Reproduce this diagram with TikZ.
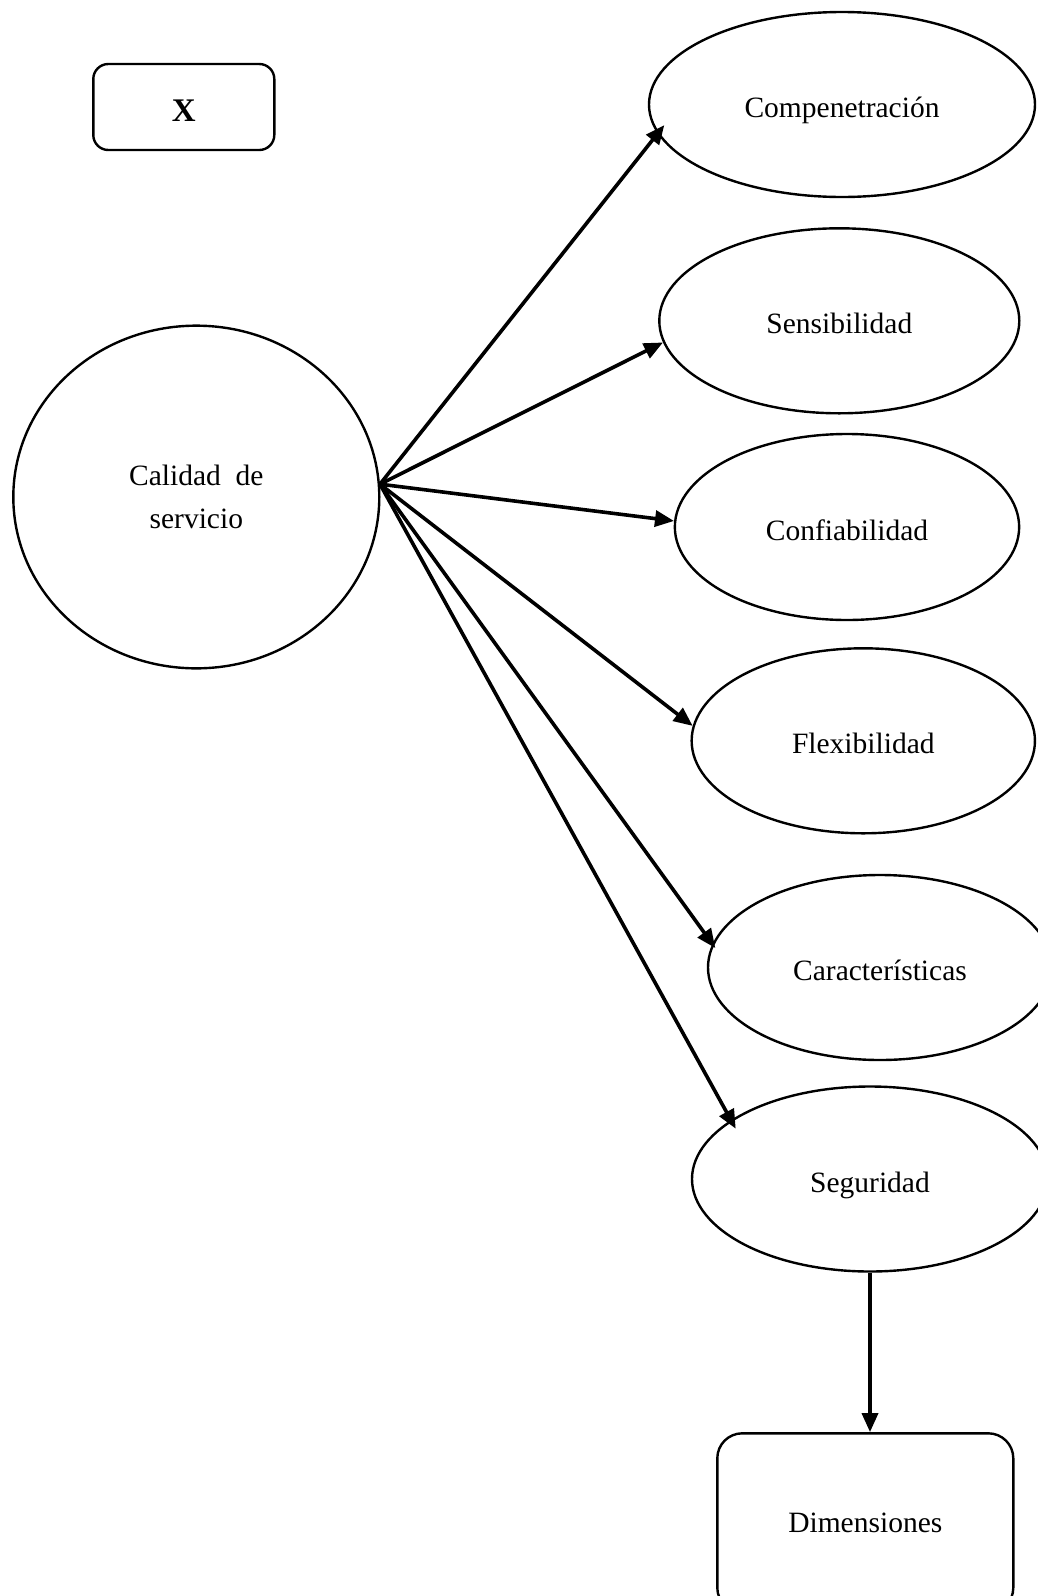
\documentclass[tikz,border=0pt]{standalone}
\usepackage{fontspec}
\setmainfont{Liberation Serif}
\usetikzlibrary{shapes.geometric,arrows.meta}
\begin{document}
\begin{tikzpicture}[x=1pt,y=-1pt,
  every node/.style={font=\fontsize{29.5}{42.6}\selectfont},
  ell/.style={ellipse,draw,line width=2.4pt,inner sep=0pt,align=center},
  lbl/.style={text height=26pt,text depth=0pt},
  rbox/.style={rectangle,draw,line width=2.4pt,inner sep=0pt,align=center},
  conn/.style={line width=3.6pt,-{Triangle[length=19pt,width=16pt]}}]
\path[use as bounding box] (0,0) rectangle (1038,1596);
\clip (0,0) rectangle (1038,1596);

\node[rbox,rounded corners=15pt,minimum width=181pt,minimum height=86pt,text height=29pt,text depth=0pt] (xbox) at (183.8,107)
  {\fontsize{33}{36}\selectfont\bfseries X};
\node[ell,minimum width=366pt,minimum height=342.7pt] (cal) at (196.3,497) {Calidad\ \ de\\servicio};

\node[ell,lbl,minimum width=386pt,minimum height=185pt] (comp) at (842,104.5) {Compenetración};
\node[ell,lbl,minimum width=360pt,minimum height=185pt] (sens) at (839.3,320.8) {Sensibilidad};
\node[ell,lbl,minimum width=344.3pt,minimum height=186pt] (conf) at (847,527) {Confiabilidad};
\node[ell,lbl,minimum width=343.3pt,minimum height=185pt] (flex) at (863.3,740.8) {Flexibilidad};
\node[ell,lbl,minimum width=344pt,minimum height=185pt] (car) at (880,967.5) {Características};
\node[ell,lbl,minimum width=356pt,minimum height=185pt] (seg) at (870,1179) {Seguridad};

\node[rbox,rounded corners=25pt,minimum width=296pt,minimum height=179.4pt] (dim) at (865.3,1523) {Dimensiones};

\draw[conn,shorten >=-11pt] (cal.4.8) -- (comp.189.4);
\draw[conn] (cal.4.8) -- (sens.187.1);
\draw[conn] (cal.4.8) -- (conf.178.2);
\draw[conn] (cal.4.8) -- (flex.175.3);
\draw[conn,shorten >=-5pt] (cal.4.8) -- (car.172.4);
\draw[conn,shorten >=-10pt] (cal.4.8) -- (seg.157.4);
\draw[conn] (seg.south) -- (seg.south |- dim.north);
\end{tikzpicture}
\end{document}
